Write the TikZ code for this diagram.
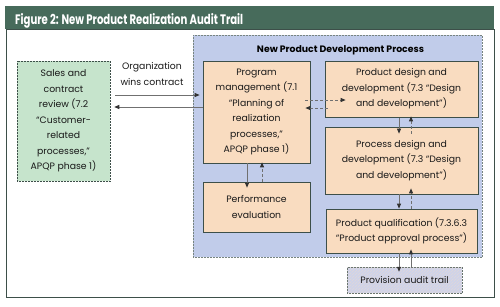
\documentclass[tikz,border=0pt]{standalone}
\usepackage{fontspec}
\setmainfont{Poppins}
\usetikzlibrary{arrows.meta,calc,patterns}
\definecolor{titlebar}{HTML}{476B5B}
\definecolor{greenfill}{HTML}{C6E4CC}
\definecolor{bluefill}{HTML}{C1CCEA}
\definecolor{peach}{HTML}{F9DCC0}
\definecolor{edge}{HTML}{3D4F49}
\definecolor{arrline}{HTML}{707070}
\definecolor{provfill}{HTML}{CED3EA}
\begin{document}
\begin{tikzpicture}[x=1pt,y=-1pt,
  txt/.style={font=\fontsize{9.3}{15.5}\selectfont, align=center, text=black!90},
  obox/.style={txt, draw=edge, line width=0.7pt, fill=peach, inner sep=0pt},
  gbox/.style={txt, draw=edge, densely dotted, line width=0.5pt, fill=greenfill, inner sep=0pt},
  arr/.style={draw=arrline, line width=0.8pt, -{Triangle[length=5pt,width=4pt,color=black!80,fill=black!80]}}
]
\useasboundingbox (0,0) rectangle (500,306);
\fill[white] (0,0) rectangle (500,306);
% frame and title
\draw[edge, line width=0.6pt] (6,29) rectangle (494,297);
\fill[titlebar] (5,6) rectangle (494,29);
\node[anchor=base west, inner sep=0pt, text=white] (title) at (15,24)
  {\resizebox{228pt}{11pt}{\bfseries Figure 2: New Product Realization Audit Trail}};
% blue region
\draw[edge!70, densely dotted, line width=0.5pt, fill=bluefill] (193,35) rectangle (482,257);
\node[anchor=base, inner sep=0pt] (npd) at (340.5,52.5)
  {\resizebox{167pt}{!}{\bfseries New Product Development Process}};
% boxes
\node[gbox, minimum width=93pt, minimum height=120pt] (sales) at (63.5,121)
  {Sales and\\contract\\review (7.2\\``Customer-\\related\\processes,''\\APQP phase 1)};
\node[obox, minimum width=107pt, minimum height=102pt] (prog) at (256.5,112)
  {Program\\management (7.1\\``Planning of\\realization\\processes,''\\APQP phase 1)};
\node[obox, minimum width=107pt, minimum height=50pt] (perf) at (256.5,207)
  {Performance\\evaluation};
\node[obox, minimum width=153pt, minimum height=56pt] (pd) at (401.5,89)
  {Product design and\\development (7.3 ``Design\\and development'')};
\node[obox, minimum width=153pt, minimum height=67pt] (proc) at (401.5,160.5)
  {Process design and\\development (7.3 ``Design\\and development'')};
\node[obox, minimum width=151pt, minimum height=44pt] (qual) at (401.5,231)
  {Product qualification (7.3.6.3\\``Product approval process'')};
\node[txt, draw=edge!80, densely dotted, line width=0.5pt, fill=provfill,
  postaction={pattern=north east lines, pattern color=peach},
  minimum width=115pt, minimum height=26pt, inner sep=0pt] (prov) at (404.5,280)
  {Provision audit trail};
% label
\node[txt] (win) at (152,74) {Organization\\wins contract};
% arrows
\draw[arr] ($(sales.east)+(5,-26)$) -- ($(prog.west)+(-3,-17)$);
\draw[arr] ($(prog.west)+(0,-5)$) -- ($(sales.east)+(4,-14)$);
\draw[arr, densely dashed] ($(prog.east)+(-5,-12)$) -- ($(pd.west)+(21,11)$);
\draw[arr, densely dashed] ($(pd.west)+(3,19)$) -- ($(prog.east)+(-5,-4)$);
\draw[arr] ($(pd.south)+(-2.5,1)$) -- ($(proc.north)+(-2.5,7)$);
\draw[arr, densely dashed] ($(proc.north)+(9.5,7)$) -- ($(pd.south)+(9.5,-1)$);
\draw[arr] ($(proc.south)+(-2.5,0)$) -- ($(qual.north)+(-2.5,0)$);
\draw[arr, densely dashed] ($(qual.north)+(9.5,0)$) -- ($(proc.south)+(9.5,-6)$);
\draw[arr] ($(qual.south)+(-2.5,0)$) -- ($(prov.north)+(-5.5,5)$);
\draw[arr] ($(prov.north)+(6.5,0)$) -- ($(qual.south)+(9.5,-4)$);
\draw[arr] ($(prog.south)+(-9.5,0)$) -- ($(perf.north)+(-9.5,6)$);
\draw[arr, densely dashed] ($(perf.north)+(5.5,0)$) -- ($(prog.south)+(5.5,-1)$);
\end{tikzpicture}
\end{document}
